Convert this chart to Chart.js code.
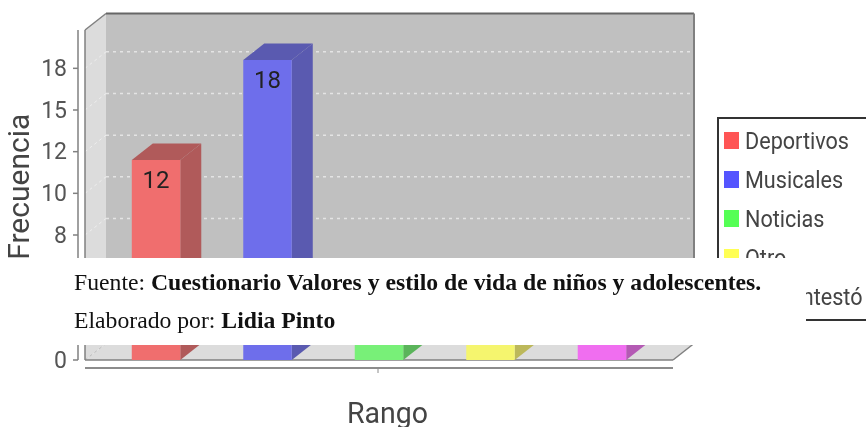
<!DOCTYPE html>
<html>
<head>
<meta charset="utf-8">
<script src="https://cdn.jsdelivr.net/npm/chart.js@4"></script>
<style>
  html, body { margin: 0; padding: 0; background: #fff; width: 866px; height: 427px; overflow: hidden; }
  #chart { position: absolute; left: 0; top: 0; filter: blur(0.6px); }
  #legend { position: absolute; left: 717px; top: 117px; width: 200px; height: 200px; border: 2px solid #333; filter: blur(0.5px);
    font: 24px Roboto, sans-serif; color: #444; }
  #legend div { position: absolute; left: 26px; height: 30px; line-height: 30px; white-space: nowrap; transform: scaleX(0.9); transform-origin: left center; }
  #legend span { position: absolute; left: 5px; width: 15px; height: 17px; }
  #note { position: absolute; left: 32px; top: 258px; width: 774px; height: 87px; background: #fff;
    font: 23px "Liberation Serif", serif; color: #111; filter: blur(0.3px); }
  #note p { position: absolute; left: 42px; margin: 0; white-space: nowrap; transform: scaleX(1.03); transform-origin: left center; }
</style>
</head>
<body>
<canvas id="chart" width="866" height="427"></canvas>
<div id="legend"></div>
<div id="note">
  <p style="top:12px">Fuente: <b>Cuestionario Valores y estilo de vida de niños y adolescentes.</b></p>
  <p style="top:50px">Elaborado por: <b>Lidia Pinto</b></p>
</div>
<script>
const seriesNames = ['Deportivos', 'Musicales', 'Noticias', 'Otro', 'No contestó'];
const seriesValues = [12, 18, 5, 4, 3];
const frontColors = ['#f06e6e', '#6e6eeb', '#78f078', '#f5f56e', '#f06ef0'];
const sideColors = ['#b05a5a', '#5a5ab0', '#5ab45a', '#bcb85a', '#b45ab4'];
const swatchColors = ['#ff5555', '#5555ff', '#55ff55', '#ffff55', '#ff55ff'];
const tickLabels = ['0', '2', '5', '8', '10', '12', '15', '18'];
const axisFont = 'Roboto, sans-serif';

// depth of the fake 3d box
const dx = 21;
const dy = 16.5;

seriesNames.forEach((name, i) => {
  const top = 7 + i * 39;
  const box = document.createElement('span');
  box.style.background = swatchColors[i];
  box.style.top = (top + 6) + 'px';
  const row = document.createElement('div');
  row.style.top = top + 'px';
  row.textContent = name;
  document.getElementById('legend').append(box, row);
});

function poly(ctx, pts, fill) {
  ctx.beginPath();
  pts.forEach((p, i) => i ? ctx.lineTo(p[0], p[1]) : ctx.moveTo(p[0], p[1]));
  ctx.closePath();
  ctx.fillStyle = fill;
  ctx.fill();
}

function line(ctx, x1, y1, x2, y2, color, width, dash) {
  ctx.beginPath();
  ctx.setLineDash(dash || []);
  ctx.moveTo(x1, y1);
  ctx.lineTo(x2, y2);
  ctx.strokeStyle = color;
  ctx.lineWidth = width;
  ctx.stroke();
  ctx.setLineDash([]);
}

const box3d = {
  id: 'box3d',
  beforeDatasetsDraw(chart) {
    const { ctx, chartArea: a, scales: { y } } = chart;
    ctx.save();
    // walls and floor
    poly(ctx, [[a.left + dx, a.top - dy], [a.right + dx, a.top - dy], [a.right + dx, a.bottom - dy], [a.left + dx, a.bottom - dy]], '#c0c0c0');
    poly(ctx, [[a.left, a.top], [a.left + dx, a.top - dy], [a.left + dx, a.bottom - dy], [a.left, a.bottom]], '#dcdcdc');
    poly(ctx, [[a.left, a.bottom], [a.left + dx, a.bottom - dy], [a.right + dx, a.bottom - dy], [a.right, a.bottom]], '#dcdcdc');
    // grid on the back wall and left wall
    y.ticks.forEach((t, i) => {
      const py = y.getPixelForTick(i);
      line(ctx, a.left + dx, py - dy, a.right + dx, py - dy, i ? '#e4e4e4' : '#bbbbbb', 1.5, [3, 4]);
      line(ctx, a.left, py, a.left + dx, py - dy, i ? '#eeeeee' : '#bbbbbb', 1, [3, 3]);
    });
    // outlines
    line(ctx, a.left + dx, a.top - dy, a.right + dx, a.top - dy, '#666666', 2);
    line(ctx, a.right + dx, a.top - dy, a.right + dx, a.bottom - dy, '#808080', 2);
    line(ctx, a.left, a.top, a.left + dx, a.top - dy, '#808080', 1.5);
    line(ctx, a.left, a.top, a.left, a.bottom, '#808080', 1.5);
    line(ctx, a.left, a.bottom, a.right, a.bottom, '#808080', 1.5);
    line(ctx, a.right, a.bottom, a.right + dx, a.bottom - dy, '#808080', 1.5);
    // side and top faces of the bars
    chart.data.datasets.forEach((ds, i) => {
      const bar = chart.getDatasetMeta(i).data[0];
      const l = bar.x - bar.width / 2;
      const r = bar.x + bar.width / 2;
      poly(ctx, [[r, bar.y], [r + dx, bar.y - dy], [r + dx, bar.base - dy], [r, bar.base]], sideColors[i]);
      poly(ctx, [[l, bar.y], [l + dx, bar.y - dy], [r + dx, bar.y - dy], [r, bar.y]], sideColors[i]);
    });
    ctx.restore();
  },
  afterDraw(chart) {
    const { ctx, chartArea: a, scales: { y } } = chart;
    ctx.save();
    // axes sit a little away from the box
    const axisX = a.left - 7;
    line(ctx, axisX, a.top, axisX, a.bottom, '#808080', 1.5);
    y.ticks.forEach((t, i) => {
      const py = y.getPixelForTick(i);
      line(ctx, axisX - 5, py, axisX, py, '#808080', 1.5);
    });
    line(ctx, a.left, a.bottom + 8, a.right, a.bottom + 8, '#8c8c8c', 2);
    line(ctx, (a.left + a.right) / 2 - 1, a.bottom + 8, (a.left + a.right) / 2 - 1, a.bottom + 13, '#8c8c8c', 1);
    // value labels
    ctx.font = '24px ' + axisFont;
    ctx.fillStyle = '#222';
    ctx.textAlign = 'center';
    ctx.textBaseline = 'middle';
    chart.data.datasets.forEach((ds, i) => {
      const bar = chart.getDatasetMeta(i).data[0];
      ctx.fillText(String(ds.data[0]), bar.x, bar.y + 22);
    });
    // axis titles are centred on the whole box, depth included
    ctx.font = '29px ' + axisFont;
    ctx.fillStyle = '#444';
    ctx.fillText('Rango', (a.left + a.right + dx) / 2 - 2, 416, 81);
    ctx.font = '30px ' + axisFont;
    ctx.translate(21, (a.top - dy + a.bottom) / 2);
    ctx.rotate(-Math.PI / 2);
    ctx.fillText('Frecuencia', 0, 0, 153);
    ctx.restore();
  }
};

new Chart(document.getElementById('chart'), {
  type: 'bar',
  data: {
    labels: [''],
    datasets: seriesNames.map((name, i) => ({
      label: name,
      data: [seriesValues[i]],
      backgroundColor: frontColors[i],
      categoryPercentage: 0.948,
      barPercentage: 0.435
    }))
  },
  options: {
    responsive: false,
    animation: false,
    layout: { padding: { top: 30, right: 193, left: 0, bottom: 0 } },
    scales: {
      x: {
        grid: { display: false },
        border: { display: false },
        ticks: { display: false },
        afterFit: scale => { scale.height = 67; }
      },
      y: {
        min: 0,
        max: 19.8,
        grid: { display: false },
        border: { display: false },
        afterFit: scale => { scale.width = 85; },
        afterBuildTicks: scale => { scale.ticks = scale.ticks.filter(t => t.value <= 17.5); },
        ticks: {
          stepSize: 2.5,
          padding: 10,
          labelOffset: 2,
          color: '#555',
          font: { size: 23, family: axisFont },
          callback: (value, index) => tickLabels[index]
        }
      }
    },
    plugins: {
      legend: { display: false },
      tooltip: { enabled: false }
    }
  },
  plugins: [box3d]
});
</script>
</body>
</html>
